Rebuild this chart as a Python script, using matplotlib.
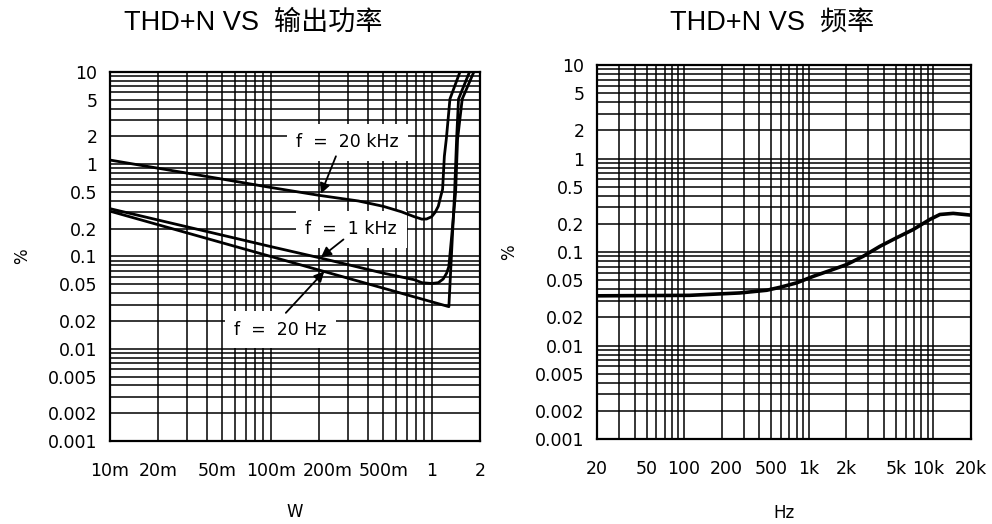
import numpy as np
import matplotlib
matplotlib.use('Agg')
import matplotlib.pyplot as plt
import matplotlib.transforms as mtransforms
from matplotlib.ticker import LogLocator, NullFormatter

# THD+N vs output power (W), three test frequencies
power_20khz = [0.01, 0.05, 0.1, 0.2, 0.35, 0.5, 0.65, 0.78, 0.87, 0.93, 1.0, 1.05, 1.10, 1.14, 1.17, 1.20, 1.235,
               1.30, 1.50]
thd_20khz = [1.11, 0.69, 0.56, 0.46, 0.40, 0.35, 0.305, 0.27, 0.254, 0.255, 0.27, 0.30, 0.35, 0.45, 0.535, 1.22,
             1.9, 5.1, 10]

power_1khz = [0.01, 0.1, 0.2, 0.5, 0.78, 0.87, 1.0, 1.10, 1.18, 1.24, 1.28, 1.33, 1.41, 1.45, 1.55, 1.83]
thd_1khz = [0.33, 0.128, 0.097, 0.066, 0.056, 0.052, 0.051, 0.052, 0.057, 0.066, 0.078, 0.16, 0.5, 1.87, 5.1, 10]

power_20hz = [0.01, 1.28, 1.39, 1.43, 1.47, 1.72]
thd_20hz = [0.31, 0.0286, 0.5, 1.87, 5.1, 10]

# THD+N vs frequency (Hz)
freq_hz = [20, 110, 280, 460, 590, 800, 1090, 1480, 2010, 2730, 3720, 5060, 6880, 9360, 11260, 14400, 20000]
thd_freq = [0.034, 0.0344, 0.0365, 0.039, 0.042, 0.0468, 0.055, 0.0634, 0.0734, 0.090, 0.115, 0.142, 0.174,
            0.223, 0.252, 0.259, 0.248]

y_ticks = [0.001, 0.002, 0.005, 0.01, 0.02, 0.05, 0.1, 0.2, 0.5, 1, 2, 5, 10]
y_labels = ['0.001', '0.002', '0.005', '0.01', '0.02', '0.05', '0.1', '0.2', '0.5', '1', '2', '5', '10']
w_ticks = [0.01, 0.02, 0.05, 0.1, 0.2, 0.5, 1, 2]
w_labels = ['10m', '20m', '50m', '100m', '200m', '500m', '1', '2']
hz_ticks = [20, 50, 100, 200, 500, 1000, 2000, 5000, 10000, 20000]
hz_labels = ['20', '50', '100', '200', '500', '1k', '2k', '5k', '10k', '20k']

plt.rcParams['font.family'] = ['DejaVu Sans']
title_font = ['Liberation Sans', 'Noto Sans CJK SC']

fig = plt.figure(figsize=(9.92, 5.24), dpi=100)
ax1 = fig.add_axes([0.1109, 0.1584, 0.373, 0.7042])
ax2 = fig.add_axes([0.6018, 0.1622, 0.377, 0.7137])


def style_axes(ax, xlim, xticks, xlabels, xlabel, xpad):
    ax.set_xscale('log')
    ax.set_yscale('log')
    ax.set_xlim(*xlim)
    ax.set_ylim(0.001, 10)
    ax.set_xticks(xticks, xlabels)
    ax.set_yticks(y_ticks, y_labels)
    for axis in (ax.xaxis, ax.yaxis):
        axis.set_minor_locator(LogLocator(base=10, subs=np.arange(2, 10), numticks=100))
        axis.set_minor_formatter(NullFormatter())
    ax.tick_params(which='both', length=0, labelsize=12.5)
    ax.tick_params(axis='x', pad=15)
    ax.tick_params(axis='y', pad=9)
    ax.grid(which='both', color='black', linewidth=1.1)
    for s in ax.spines.values():
        s.set_linewidth(1.6)
    ax.set_xlabel(xlabel, fontsize=12, labelpad=xpad)
    ax.set_ylabel('%', fontsize=12, labelpad=12)


def shift_xlabel(ax, idx, dx_px):
    lbl = ax.get_xticklabels()[idx]
    lbl.set_transform(lbl.get_transform()
                      + mtransforms.ScaledTranslation(dx_px / fig.dpi, 0, fig.dpi_scale_trans))


style_axes(ax1, (0.01, 2), w_ticks, w_labels, 'W', 17)
style_axes(ax2, (20, 20000), hz_ticks, hz_labels, 'Hz', 19)
shift_xlabel(ax1, 2, -5)
shift_xlabel(ax1, 4, 9)
shift_xlabel(ax2, 3, 5)
shift_xlabel(ax2, 8, -5)

for p, t in [(power_20khz, thd_20khz), (power_1khz, thd_1khz), (power_20hz, thd_20hz)]:
    ax1.plot(p, t, color='black', linewidth=2.0, solid_joinstyle='round', zorder=4)
ax2.plot(freq_hz, thd_freq, color='black', linewidth=2.6, solid_joinstyle='round', zorder=4)

# curve labels with white boxes and arrows
labels = [
    ('f  =  20 kHz', (0.30, 1.73), (0.254, 1.22), (0.205, 0.48)),
    ('f  =  1 kHz', (0.316, 0.197), (0.283, 0.153), (0.205, 0.098)),
    ('f  =  20 Hz', (0.115, 0.016), (0.124, 0.0245), (0.215, 0.069)),
]
for txt, pos, start, tip in labels:
    ax1.text(pos[0], pos[1], txt, fontsize=12.5, ha='center', va='center', zorder=3,
             bbox=dict(boxstyle='square,pad=0.55', facecolor='white', edgecolor='none'))
    ax1.annotate('', xy=tip, xytext=start, zorder=5,
                 arrowprops=dict(arrowstyle='-|>', color='black', lw=1.3,
                                 mutation_scale=15, shrinkA=0, shrinkB=0))

fig.text(253 / 992, 1 - 23 / 524, 'THD+N VS  输出功率', family=title_font, fontsize=19.5,
         ha='center', va='center')
fig.text(772 / 992, 1 - 23 / 524, 'THD+N VS  频率', family=title_font, fontsize=19.5,
         ha='center', va='center')

fig.savefig('out.png', dpi=100)
